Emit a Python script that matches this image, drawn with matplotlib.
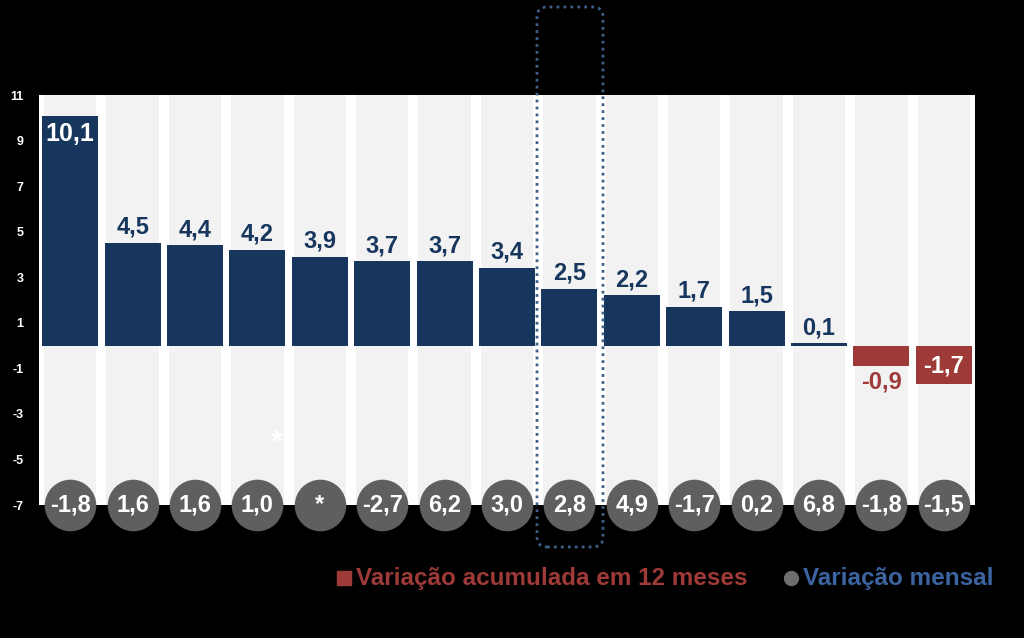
import matplotlib.pyplot as plt
from matplotlib.lines import Line2D
from matplotlib.patches import FancyBboxPatch
from matplotlib.transforms import IdentityTransform

# 12-month accumulated change (bars) and monthly change (circles)
acumulada = [10.1, 4.5, 4.4, 4.2, 3.9, 3.7, 3.7, 3.4, 2.5, 2.2, 1.7, 1.5, 0.1, -0.9, -1.7]
mensal = [-1.8, 1.6, 1.6, 1.0, None, -2.7, 6.2, 3.0, 2.8, 4.9, -1.7, 0.2, 6.8, -1.8, -1.5]
yticks = [11, 9, 7, 5, 3, 1, -1, -3, -5, -7]
destaque = 8  # highlighted column

NAVY = "#17365d"
RED = "#9e3a38"
GREY = "#5f5f5f"
BAND = "#f2f2f2"
BLUE = "#3b64a0"

plt.rcParams["font.family"] = ["Liberation Sans", "DejaVu Sans"]


def fmt(v):
    return f"{v:.1f}".replace(".", ",")


fig = plt.figure(figsize=(10.24, 6.38), dpi=100, facecolor="black")
ax = fig.add_axes([39 / 1024, 133 / 638, 936 / 1024, 410 / 638])
ax.set_facecolor("white")

x = list(range(len(acumulada)))
ax.bar(x, [18] * len(x), bottom=-7, width=0.84, color=BAND, zorder=1)
colors = [NAVY if v >= 0 else RED for v in acumulada]
ax.bar(x, acumulada, width=0.9, color=colors, zorder=2)

for i, v in enumerate(acumulada):
    if v > 8:
        ax.annotate(fmt(v), (i, v), xytext=(0, -5), textcoords="offset points",
                    ha="center", va="top", color="white", fontsize=18, fontweight="bold", zorder=4)
    elif v >= 0:
        ax.annotate(fmt(v), (i, v), xytext=(0, 3), textcoords="offset points",
                    ha="center", va="bottom", color=NAVY, fontsize=17, fontweight="bold", zorder=4)
    elif v > -1.2:
        ax.annotate(fmt(v), (i, v), xytext=(0, -3), textcoords="offset points",
                    ha="center", va="top", color=RED, fontsize=17, fontweight="bold", zorder=4)
    else:
        ax.text(i, v / 2 - 0.05, fmt(v), ha="center", va="center", color="white",
                fontsize=17, fontweight="bold", zorder=4)

# monthly circles along the bottom edge
ax.scatter(x, [-7] * len(x), s=1380, color=GREY, zorder=5, clip_on=False, linewidths=0)
for i, m in enumerate(mensal):
    lab = "*" if m is None else fmt(m)
    ax.text(i, -7, lab, ha="center", va="center", color="white", fontsize=17,
            fontweight="bold", zorder=6, clip_on=False)

ax.text(3.31, -4.3, "*", ha="center", va="center", color="white", fontsize=22,
        fontweight="bold", zorder=3)

ax.set_xlim(-0.5, len(x) - 0.5)
ax.set_ylim(-7, 11)
ax.set_yticks(yticks)
ax.set_yticklabels([str(t) for t in yticks])
ax.set_xticks([])
ax.tick_params(axis="y", length=0, colors="white", labelsize=9, pad=11)
for lab in ax.get_yticklabels():
    lab.set_fontweight("bold")
for s in ax.spines.values():
    s.set_visible(False)

# dotted highlight frame (pixel coordinates)
frame = FancyBboxPatch((537, 638 - 547), 66, 540, boxstyle="round,pad=0,rounding_size=10",
                       transform=IdentityTransform(), fill=False, edgecolor="#3d5f88",
                       linestyle=(0, (1, 1.5)), linewidth=2, zorder=10)
fig.add_artist(frame)

# legend
fig.add_artist(Line2D([344 / 1024], [1 - 578 / 638], marker="s", markersize=10, color=RED,
                      linestyle="none", transform=fig.transFigure))
fig.text(356 / 1024, 1 - 578 / 638, "Variação acumulada em 12 meses", color=RED,
         fontsize=17.5, fontweight="bold", va="center", ha="left")
fig.add_artist(Line2D([791 / 1024], [1 - 578 / 638], marker="o", markersize=10, color="#6e6e6e",
                      linestyle="none", transform=fig.transFigure))
fig.text(803 / 1024, 1 - 578 / 638, "Variação mensal", color=BLUE,
         fontsize=17.5, fontweight="bold", va="center", ha="left")

fig.savefig("out.png", dpi=100, facecolor="black")
